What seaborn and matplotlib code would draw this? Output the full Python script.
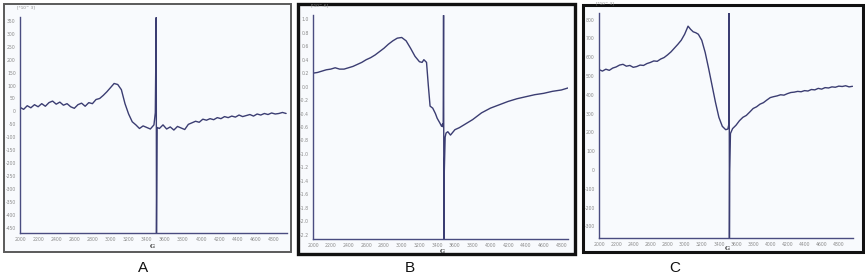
import matplotlib
matplotlib.use("Agg")
import matplotlib.pyplot as plt
import seaborn as sns
import pandas as pd
from matplotlib.patches import Rectangle
from matplotlib.ticker import MultipleLocator

sns.set_style("white")
plt.rcParams['font.family'] = ['DejaVu Sans']
plt.rcParams['axes.unicode_minus'] = False

# ---------------- data ----------------
field_a = [2000, 2040, 2080, 2120, 2160, 2200, 2240, 2280, 2320, 2360, 2400, 2440, 2480,
           2520, 2560, 2600, 2640, 2680, 2720, 2760, 2800, 2840, 2880, 2920, 2960, 3000,
           3040, 3080, 3120, 3160, 3200, 3240, 3280, 3320, 3360, 3400, 3440, 3480, 3495,
           3505, 3508, 3515, 3540, 3580, 3620, 3660, 3700, 3740, 3780, 3820, 3860, 3900,
           3940, 3980, 4020, 4060, 4100, 4140, 4180, 4220, 4260, 4300, 4340, 4380, 4420,
           4460, 4500, 4540, 4580, 4620, 4660, 4700, 4740, 4780, 4820, 4860, 4900, 4940]
signal_a = [16, 8, 22, 14, 26, 18, 30, 20, 34, 40, 28, 36, 24,
            30, 18, 12, 26, 32, 20, 34, 30, 46, 50, 62, 76, 92,
            108, 104, 84, 30, -10, -40, -52, -66, -56, -62, -68, -52, -5,
            363, -470, -62, -66, -52, -68, -60, -72, -58, -64, -70, -50, -44,
            -38, -42, -30, -34, -28, -32, -24, -28, -20, -24, -18, -22, -14,
            -20, -16, -12, -18, -10, -14, -8, -12, -6, -10, -8, -4, -8]

field_b = [2000, 2050, 2100, 2150, 2200, 2250, 2300, 2350, 2400, 2450, 2500, 2550, 2600,
           2650, 2700, 2750, 2800, 2850, 2900, 2950, 3000, 3050, 3100, 3150, 3200, 3230,
           3250, 3280, 3300, 3320, 3350, 3380, 3400, 3430, 3450, 3462, 3468, 3472, 3476,
           3480, 3490, 3500, 3520, 3550, 3600, 3650, 3700, 3750, 3800, 3900, 4000, 4100,
           4200, 4300, 4400, 4500, 4600, 4700, 4800, 4875]
signal_b = [0.20, 0.21, 0.23, 0.25, 0.26, 0.28, 0.26, 0.26, 0.28, 0.30, 0.33, 0.36, 0.40,
            0.43, 0.47, 0.52, 0.57, 0.63, 0.68, 0.72, 0.73, 0.68, 0.57, 0.45, 0.37, 0.36,
            0.40, 0.36, 0.02, -0.29, -0.32, -0.40, -0.47, -0.54, -0.59, -0.55, -0.60, 1.06, -2.26,
            -1.28, -0.75, -0.69, -0.67, -0.72, -0.64, -0.61, -0.57, -0.53, -0.49, -0.39, -0.32, -0.27,
            -0.22, -0.18, -0.15, -0.12, -0.10, -0.07, -0.05, -0.02]

field_c = [2000, 2040, 2080, 2120, 2160, 2200, 2240, 2280, 2320, 2360, 2400, 2440, 2480,
           2520, 2560, 2600, 2640, 2680, 2720, 2760, 2800, 2840, 2880, 2920, 2960, 3000,
           3040, 3070, 3100, 3130, 3160, 3200, 3240, 3280, 3320, 3360, 3400, 3440, 3480,
           3505, 3515, 3520, 3523, 3526, 3535, 3560, 3600, 3640, 3680, 3720, 3760, 3800,
           3840, 3880, 3920, 3960, 4000, 4040, 4080, 4120, 4160, 4200, 4240, 4280, 4320,
           4360, 4400, 4440, 4480, 4520, 4560, 4600, 4640, 4680, 4720, 4760, 4800, 4840,
           4880, 4920, 4960]
signal_c = [534, 526, 536, 530, 542, 548, 558, 562, 552, 556, 546, 550, 558,
            556, 566, 572, 580, 578, 590, 598, 612, 628, 648, 668, 690, 722,
            765, 748, 735, 730, 722, 690, 625, 540, 450, 360, 280, 232, 214,
            218, 240, 835, -362, -10, 194, 220, 238, 262, 280, 290, 308, 327,
            336, 350, 358, 372, 385, 390, 394, 400, 398, 406, 412, 414, 418,
            416, 422, 420, 428, 426, 434, 430, 438, 436, 442, 440, 446, 444,
            448, 442, 445]

labels = ["A", "B", "C"]
scale_labels = ["[*10^ 3]", "[*10^-6]", "[*10^ 3]"]

# ---------------- figure ----------------
W, H = 865, 278
fig = plt.figure(figsize=(W / 100, H / 100), dpi=100)
fig.patch.set_facecolor("white")

def fx(x): return x / W
def fy(y): return 1 - y / H

frames = [((4, 4, 291, 252), "#5a5a5a", 1.4),
          ((298, 4, 575, 254), "#111111", 2.4),
          ((583, 5, 863, 252), "#111111", 2.2)]
for (x0, y0, x1, y1), col, lw in frames:
    fig.add_artist(Rectangle((fx(x0), fy(y1)), fx(x1) - fx(x0), fy(y0) - fy(y1),
                             transform=fig.transFigure, fill=True, facecolor="#f8fafd",
                             edgecolor=col, linewidth=lw, zorder=0))

axes_px = [(20, 17, 287, 233), (313, 15, 568, 239), (599, 13, 853, 238)]
xlims = [(2000, 4950), (2000, 4875), (2000, 4966)]
ylims = [(-470, 365), (-2.264, 1.064), (-362, 835)]
ysteps = [50, 0.2, 100]
yfmt = ["{:.0f}", "{:.1f}", "{:.0f}"]
data = [(field_a, signal_a), (field_b, signal_b), (field_c, signal_c)]
g_pos = [(152, 246.5), (442, 251.2), (727, 248.5)]
letter_pos = [(143, 268), (410, 268), (675, 268)]

line_col = "#3b3d72"
for i, ((x0, y0, x1, y1), (fld, sig)) in enumerate(zip(axes_px, data)):
    ax = fig.add_axes([fx(x0), fy(y1), fx(x1) - fx(x0), fy(y0) - fy(y1)])
    ax.set_facecolor("none")
    df = pd.DataFrame({"field": fld, "signal": sig})
    sns.lineplot(data=df, x="field", y="signal", ax=ax, color=line_col,
                 linewidth=1.0, sort=False, estimator=None)
    ax.set_xlim(*xlims[i])
    ax.set_ylim(*ylims[i])
    ax.set_xlabel("")
    ax.set_ylabel("")
    for s in ["top", "right"]:
        ax.spines[s].set_visible(False)
    for s in ["left", "bottom"]:
        ax.spines[s].set_color("#4a4c80")
        ax.spines[s].set_linewidth(1.0)
    ax.xaxis.set_minor_locator(MultipleLocator(50))
    ax.yaxis.set_major_locator(MultipleLocator(ysteps[i]))
    lo, hi = ylims[i]
    ticks = [t for t in ax.get_yticks() if lo <= t <= hi]
    ax.set_yticks(ticks)
    ax.set_yticklabels([yfmt[i].format(t + 0.0) for t in ticks])
    xt = list(range(2000, 4801, 200))
    ax.set_xticks(xt)
    ax.set_xticklabels([str(t) for t in xt])
    ax.tick_params(axis="both", which="major", labelsize=3.3, labelcolor="#8a8a8a",
                   length=1.6, width=0.5, color="#4a4c80", pad=1.5, direction="out")
    ax.tick_params(axis="x", which="minor", length=1.2, width=0.4, color="#4a4c80")
    ax.text(-0.01, 1.035, scale_labels[i], transform=ax.transAxes, fontsize=3,
            color="#8a8a8a", ha="left", va="bottom")
    gx, gy = g_pos[i]
    fig.text(fx(gx), fy(gy), "G", fontsize=4.3, fontweight="bold", family="DejaVu Serif",
             color="#333333", ha="center", va="center")
    lx, ly = letter_pos[i]
    fig.text(fx(lx), fy(ly), labels[i], fontsize=11, family="Liberation Sans",
             color="#111111", ha="center", va="center")

fig.savefig("out.png", dpi=100, facecolor="white")
